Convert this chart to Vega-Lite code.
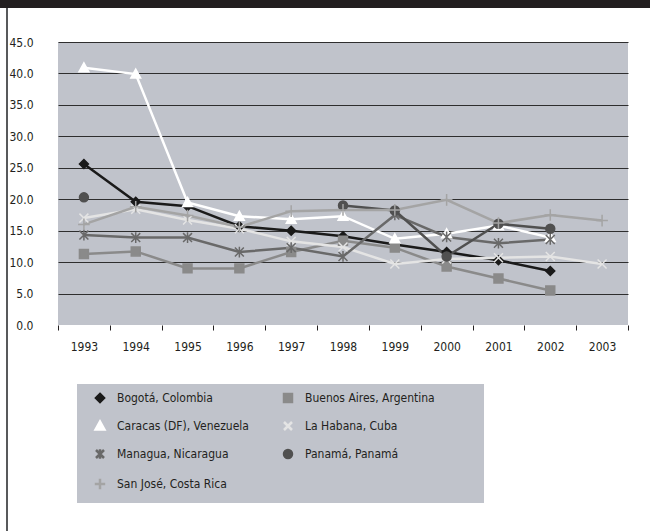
{
  "$schema": "https://vega.github.io/schema/vega-lite/v6.json",
  "padding": 0,
  "background": "#ffffff",
  "spacing": 0,
  "config": {
    "font": "DejaVu Sans Condensed, DejaVu Sans, sans-serif",
    "view": {"stroke": null},
    "concat": {"spacing": 0}
  },
  "vconcat": [
    {
      "width": 650,
      "height": 8,
      "view": {"fill": "#231f20", "stroke": null},
      "data": {"values": []},
      "mark": "point"
    },
    {
      "spacing": 0,
      "hconcat": [
        {
          "width": 6,
          "height": 523,
          "view": {"fill": "#ffffff", "stroke": null},
          "data": {"values": []},
          "mark": "point"
        },
        {
          "width": 2,
          "height": 523,
          "view": {"fill": "#58595b", "stroke": null},
          "data": {"values": []},
          "mark": "point"
        },
        {
          "spacing": 0,
          "vconcat": [
            {
              "width": 2,
              "height": 28,
              "view": {"fill": "#ffffff", "stroke": null},
              "data": {"values": []},
              "mark": "point"
            },
            {
              "width": 570,
              "height": 283,
              "view": {"fill": "#c0c3cb", "stroke": null},
              "data": {
                "values": [
                  {"city": "Bogotá, Colombia", "year": 1993, "value": 25.6},
                  {"city": "Bogotá, Colombia", "year": 1994, "value": 19.6},
                  {"city": "Bogotá, Colombia", "year": 1995, "value": 18.9},
                  {"city": "Bogotá, Colombia", "year": 1996, "value": 15.7},
                  {"city": "Bogotá, Colombia", "year": 1997, "value": 15.0},
                  {"city": "Bogotá, Colombia", "year": 1998, "value": 14.1},
                  {"city": "Bogotá, Colombia", "year": 1999, "value": 12.8},
                  {"city": "Bogotá, Colombia", "year": 2000, "value": 11.6},
                  {"city": "Bogotá, Colombia", "year": 2001, "value": 10.3},
                  {"city": "Bogotá, Colombia", "year": 2002, "value": 8.6},
                  {"city": "Buenos Aires, Argentina", "year": 1993, "value": 11.3},
                  {"city": "Buenos Aires, Argentina", "year": 1994, "value": 11.7},
                  {"city": "Buenos Aires, Argentina", "year": 1995, "value": 9.0},
                  {"city": "Buenos Aires, Argentina", "year": 1996, "value": 9.0},
                  {"city": "Buenos Aires, Argentina", "year": 1997, "value": 11.6},
                  {"city": "Buenos Aires, Argentina", "year": 1998, "value": 13.4},
                  {"city": "Buenos Aires, Argentina", "year": 1999, "value": 12.3},
                  {"city": "Buenos Aires, Argentina", "year": 2000, "value": 9.3},
                  {"city": "Buenos Aires, Argentina", "year": 2001, "value": 7.4},
                  {"city": "Buenos Aires, Argentina", "year": 2002, "value": 5.5},
                  {"city": "Caracas (DF), Venezuela", "year": 1993, "value": 40.9},
                  {"city": "Caracas (DF), Venezuela", "year": 1994, "value": 39.9},
                  {"city": "Caracas (DF), Venezuela", "year": 1995, "value": 19.5},
                  {"city": "Caracas (DF), Venezuela", "year": 1996, "value": 17.3},
                  {"city": "Caracas (DF), Venezuela", "year": 1997, "value": 16.8},
                  {"city": "Caracas (DF), Venezuela", "year": 1998, "value": 17.3},
                  {"city": "Caracas (DF), Venezuela", "year": 1999, "value": 13.7},
                  {"city": "Caracas (DF), Venezuela", "year": 2000, "value": 14.5},
                  {"city": "Caracas (DF), Venezuela", "year": 2001, "value": 15.8},
                  {"city": "Caracas (DF), Venezuela", "year": 2002, "value": 13.9},
                  {"city": "La Habana, Cuba", "year": 1993, "value": 17.0},
                  {"city": "La Habana, Cuba", "year": 1994, "value": 18.4},
                  {"city": "La Habana, Cuba", "year": 1995, "value": 16.7},
                  {"city": "La Habana, Cuba", "year": 1996, "value": 15.3},
                  {"city": "La Habana, Cuba", "year": 1997, "value": 13.3},
                  {"city": "La Habana, Cuba", "year": 1998, "value": 12.4},
                  {"city": "La Habana, Cuba", "year": 1999, "value": 9.7},
                  {"city": "La Habana, Cuba", "year": 2000, "value": 10.5},
                  {"city": "La Habana, Cuba", "year": 2001, "value": 10.7},
                  {"city": "La Habana, Cuba", "year": 2002, "value": 10.9},
                  {"city": "La Habana, Cuba", "year": 2003, "value": 9.7},
                  {"city": "Managua, Nicaragua", "year": 1993, "value": 14.3},
                  {"city": "Managua, Nicaragua", "year": 1994, "value": 13.9},
                  {"city": "Managua, Nicaragua", "year": 1995, "value": 13.9},
                  {"city": "Managua, Nicaragua", "year": 1996, "value": 11.6},
                  {"city": "Managua, Nicaragua", "year": 1997, "value": 12.3},
                  {"city": "Managua, Nicaragua", "year": 1998, "value": 10.9},
                  {"city": "Managua, Nicaragua", "year": 1999, "value": 17.5},
                  {"city": "Managua, Nicaragua", "year": 2000, "value": 14.0},
                  {"city": "Managua, Nicaragua", "year": 2001, "value": 13.0},
                  {"city": "Managua, Nicaragua", "year": 2002, "value": 13.6},
                  {"city": "Panamá, Panamá", "year": 1993, "value": 20.3},
                  {"city": "Panamá, Panamá", "year": 1994, "value": null},
                  {"city": "Panamá, Panamá", "year": 1995, "value": null},
                  {"city": "Panamá, Panamá", "year": 1996, "value": null},
                  {"city": "Panamá, Panamá", "year": 1997, "value": null},
                  {"city": "Panamá, Panamá", "year": 1998, "value": 19.0},
                  {"city": "Panamá, Panamá", "year": 1999, "value": 18.2},
                  {"city": "Panamá, Panamá", "year": 2000, "value": 10.9},
                  {"city": "Panamá, Panamá", "year": 2001, "value": 16.1},
                  {"city": "Panamá, Panamá", "year": 2002, "value": 15.3},
                  {"city": "San José, Costa Rica", "year": 1993, "value": 16.0},
                  {"city": "San José, Costa Rica", "year": 1994, "value": 18.8},
                  {"city": "San José, Costa Rica", "year": 1995, "value": 17.4},
                  {"city": "San José, Costa Rica", "year": 1996, "value": 15.6},
                  {"city": "San José, Costa Rica", "year": 1997, "value": 18.1},
                  {"city": "San José, Costa Rica", "year": 1998, "value": 18.3},
                  {"city": "San José, Costa Rica", "year": 1999, "value": 18.3},
                  {"city": "San José, Costa Rica", "year": 2000, "value": 19.9},
                  {"city": "San José, Costa Rica", "year": 2001, "value": 16.2},
                  {"city": "San José, Costa Rica", "year": 2002, "value": 17.5},
                  {"city": "San José, Costa Rica", "year": 2003, "value": 16.6}
                ]
              },
              "encoding": {
                "x": {
                  "field": "year",
                  "type": "ordinal",
                  "bandPosition": 0.5,
                  "scale": {"type": "band", "paddingInner": 0, "paddingOuter": 0, "domain": [1993, 1994, 1995, 1996, 1997, 1998, 1999, 2000, 2001, 2002, 2003]},
                  "axis": {
                    "title": null,
                    "labelAngle": 0,
                    "labelFontSize": 12,
                    "labelColor": "#231f20",
                    "labelPadding": 11,
                    "domain": false,
                    "ticks": true,
                    "tickBand": "extent",
                    "tickSize": 5,
                    "tickColor": "#231f20",
                    "tickWidth": 1,
                    "grid": false
                  }
                },
                "y": {
                  "field": "value",
                  "type": "quantitative",
                  "scale": {"domain": [0, 45], "nice": false},
                  "axis": {
                    "title": null,
                    "values": [0, 5, 10, 15, 20, 25, 30, 35, 40, 45],
                    "format": ".1f",
                    "labelFontSize": 12,
                    "labelColor": "#231f20",
                    "labelPadding": 25,
                    "domain": false,
                    "ticks": false,
                    "grid": true,
                    "gridColor": "#2e2e2e",
                    "gridWidth": 1,
                    "gridOpacity": {"condition": {"test": "datum.value === 0", "value": 0}, "value": 1}
                  }
                },
                "color": {
                  "field": "city",
                  "type": "nominal",
                  "scale": {
                    "domain": ["Bogotá, Colombia", "Buenos Aires, Argentina", "Caracas (DF), Venezuela", "La Habana, Cuba", "Managua, Nicaragua", "Panamá, Panamá", "San José, Costa Rica"],
                    "range": ["#1a1a1a", "#8a8a8a", "#ffffff", "#e4e4e4", "#696969", "#505050", "#a4a4a4"]
                  },
                  "legend": {
                    "title": null,
                    "orient": "none",
                    "legendX": 77,
                    "legendY": 384,
                    "columns": 2,
                    "direction": "horizontal",
                    "padding": 8,
                    "fillColor": "#c0c3cb",
                    "strokeColor": null,
                    "labelFontSize": 12,
                    "labelColor": "#231f20",
                    "labelLimit": 400,
                    "labelExpr": "indexof(['Buenos Aires, Argentina', 'La Habana, Cuba', 'Panamá, Panamá'], datum.label) >= 0 ? datum.label + '\u00a0\u00a0\u00a0\u00a0\u00a0\u00a0\u00a0\u00a0\u00a0\u00a0\u00a0\u00a0\u200b' : datum.label",
                    "symbolSize": 64,
                    "symbolStrokeWidth": 1.5,
                    "symbolOffset": 9,
                    "labelOffset": 11,
                    "rowPadding": 9,
                    "columnPadding": 24
                  }
                }
              },
              "layer": [
                {
                  "mark": {"type": "line", "invalid": "break-paths-show-domains"},
                  "encoding": {
                    "strokeWidth": {
                      "field": "city",
                      "type": "nominal",
                      "scale": {
                        "domain": ["Bogotá, Colombia", "Buenos Aires, Argentina", "Caracas (DF), Venezuela", "La Habana, Cuba", "Managua, Nicaragua", "Panamá, Panamá", "San José, Costa Rica"],
                        "range": [2.5, 2.5, 3, 3, 2.5, 2.5, 2.5]
                      },
                      "legend": null
                    }
                  }
                },
                {
                  "mark": {"type": "point", "filled": true, "strokeWidth": 1.5, "size": 80, "opacity": 1},
                  "encoding": {
                    "stroke": {"field": "city", "type": "nominal", "scale": {"domain": ["Bogotá, Colombia", "Buenos Aires, Argentina", "Caracas (DF), Venezuela", "La Habana, Cuba", "Managua, Nicaragua", "Panamá, Panamá", "San José, Costa Rica"], "range": ["#1a1a1a", "#8a8a8a", "#ffffff", "#e4e4e4", "#696969", "#505050", "#a4a4a4"]}, "legend": null},
                    "shape": {
                      "field": "city",
                      "type": "nominal",
                      "scale": {
                        "domain": ["Bogotá, Colombia", "Buenos Aires, Argentina", "Caracas (DF), Venezuela", "La Habana, Cuba", "Managua, Nicaragua", "Panamá, Panamá", "San José, Costa Rica"],
                        "range": [
                          "M0,-1L1,0L0,1L-1,0Z",
                          "M-1,-1L1,-1L1,1L-1,1Z",
                          "M0,-1.1L1.1,0.9L-1.1,0.9Z",
                          "M-1,-1L1,1M-1,1L1,-1",
                          "M-1,-1L1,1M-1,1L1,-1M0,-1.2L0,1.2",
                          "M-1,0A1,1,0,1,1,1,0A1,1,0,1,1,-1,0Z",
                          "M-1.3,0L1.3,0M0,-1.3L0,1.3"
                        ]
                      },
                      "legend": null
                    }
                  }
                }
              ]
            }
          ]
        }
      ]
    }
  ]
}
